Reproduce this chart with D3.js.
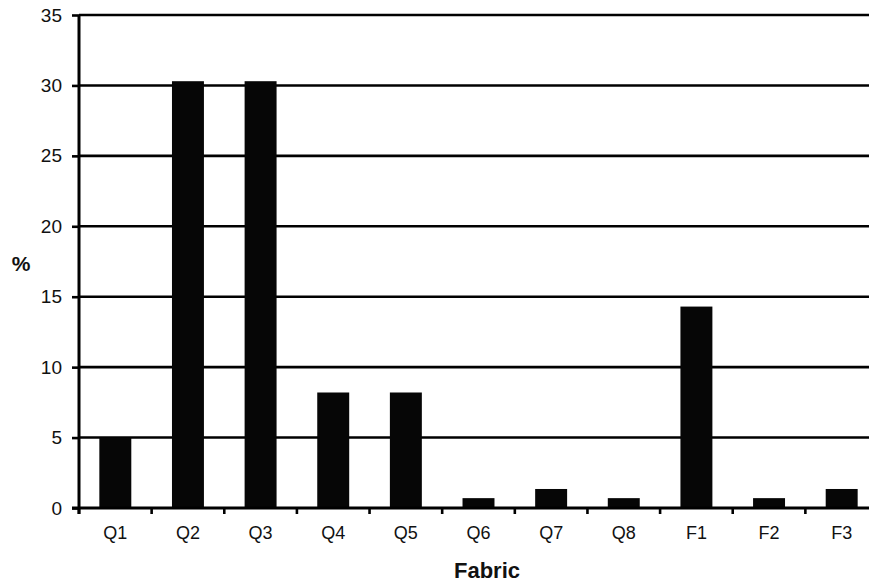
<!DOCTYPE html>
<html>
<head>
<meta charset="utf-8">
<script src="https://cdn.jsdelivr.net/npm/d3@7"></script>
<style>
  body { margin: 0; background: #fff; }
  svg { display: block; font-family: "Liberation Sans", Arial, sans-serif; }
</style>
</head>
<body>
<div id="chart"></div>
<script>
var categories = ['Q1', 'Q2', 'Q3', 'Q4', 'Q5', 'Q6', 'Q7', 'Q8', 'F1', 'F2', 'F3'];
var values = [5.0, 30.3, 30.3, 8.2, 8.2, 0.7, 1.35, 0.7, 14.3, 0.7, 1.35];
var yTicks = [0, 5, 10, 15, 20, 25, 30, 35];

var width = 869;
var height = 582;
var plotLeft = 79, plotRight = 878, plotTop = 15, plotBottom = 508;

var svg = d3.select('#chart')
  .append('svg')
  .attr('width', width)
  .attr('height', height);

var x = d3.scaleBand()
  .domain(categories)
  .range([plotLeft, plotRight])
  .paddingInner(0.56)
  .paddingOuter(0.28);

var y = d3.scaleLinear()
  .domain([0, 35])
  .range([plotBottom, plotTop]);

// gridlines
svg.append('g')
  .selectAll('line')
  .data(yTicks.filter(function(d) { return d > 0; }))
  .enter()
  .append('line')
  .attr('x1', plotLeft)
  .attr('x2', plotRight)
  .attr('y1', function(d) { return y(d); })
  .attr('y2', function(d) { return y(d); })
  .attr('stroke', '#000')
  .attr('stroke-width', 2.6);

// bars
svg.append('g')
  .selectAll('rect')
  .data(values)
  .enter()
  .append('rect')
  .attr('x', function(d, i) { return x(categories[i]); })
  .attr('width', x.bandwidth())
  .attr('y', function(d) { return y(d); })
  .attr('height', function(d) { return y(0) - y(d); })
  .attr('fill', '#060606');

// y axis
var yAxis = svg.append('g')
  .attr('transform', 'translate(' + plotLeft + ',0)')
  .call(d3.axisLeft(y).tickValues(yTicks).tickSize(7).tickPadding(10));
yAxis.select('.domain').attr('stroke-width', 3).attr('d', 'M0,' + (plotBottom + 6) + 'V' + plotTop);
yAxis.selectAll('.tick line').attr('stroke-width', 2.6);
yAxis.selectAll('text')
  .attr('font-size', 19)
  .attr('font-family', '"Liberation Sans", Arial, sans-serif')
  .attr('fill', '#111');

// x axis
var step = x.step();
var xAxis = svg.append('g')
  .attr('transform', 'translate(0,' + plotBottom + ')');
xAxis.append('line')
  .attr('x1', plotLeft - 7)
  .attr('x2', plotRight)
  .attr('stroke', '#000')
  .attr('stroke-width', 3);
xAxis.selectAll('.xtick')
  .data(d3.range(categories.length + 1))
  .enter()
  .append('line')
  .attr('x1', function(i) { return plotLeft + i * step; })
  .attr('x2', function(i) { return plotLeft + i * step; })
  .attr('y1', 0)
  .attr('y2', 6)
  .attr('stroke', '#000')
  .attr('stroke-width', 2.6);
xAxis.selectAll('.xlabel')
  .data(categories)
  .enter()
  .append('text')
  .attr('x', function(d) { return x(d) + x.bandwidth() / 2; })
  .attr('y', 31)
  .attr('text-anchor', 'middle')
  .attr('font-size', 18)
  .attr('fill', '#111')
  .text(function(d) { return d; });

// axis titles
svg.append('text')
  .attr('x', 21)
  .attr('y', 271)
  .attr('text-anchor', 'middle')
  .attr('font-size', 21)
  .attr('font-weight', 'bold')
  .attr('fill', '#111')
  .text('%');

svg.append('text')
  .attr('x', 487)
  .attr('y', 578)
  .attr('text-anchor', 'middle')
  .attr('font-size', 22)
  .attr('font-weight', 'bold')
  .attr('fill', '#111')
  .text('Fabric');
</script>
</body>
</html>
